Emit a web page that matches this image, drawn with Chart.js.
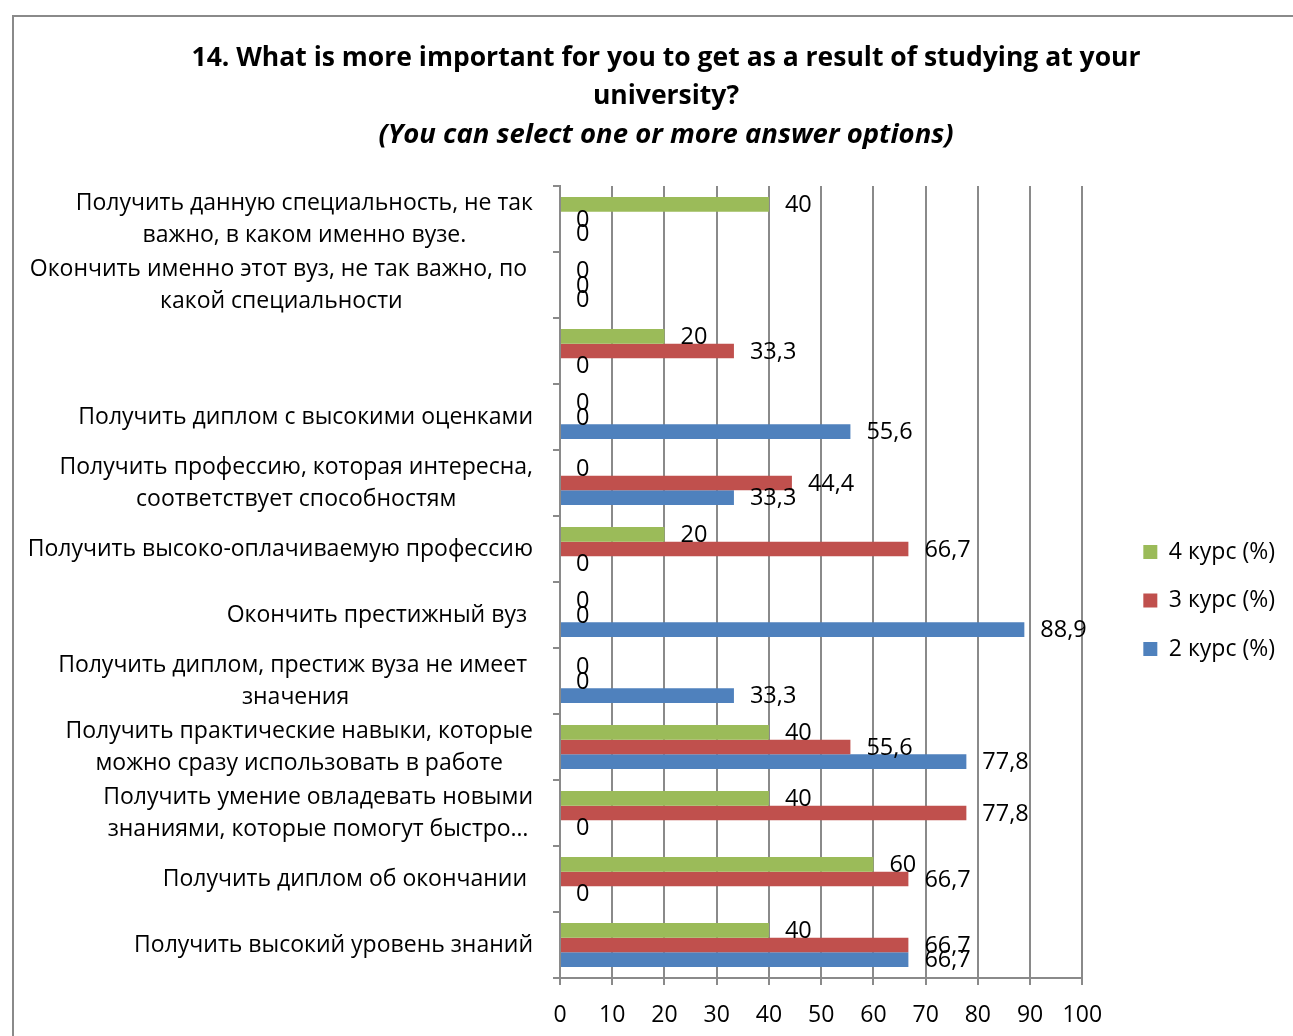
<!DOCTYPE html>
<html>
<head>
<meta charset="utf-8">
<script src="https://cdn.jsdelivr.net/npm/chart.js@4.4.1/dist/chart.umd.min.js"></script>
<style>
  html, body { margin: 0; padding: 0; background: #fff; overflow: hidden; }
  #frame { position: absolute; left: 12px; top: 15px; width: 2000px; height: 2000px;
           border-left: 2px solid #8a8a8a; border-top: 2px solid #8a8a8a; }
  #graph { position: absolute; left: 0; top: 0; }
</style>
</head>
<body>
<div id="frame"></div>
<canvas id="graph" width="1293" height="1036"></canvas>
<script>
const categories = [
  ['Получить данную специальность, не так', 'важно, в каком именно вузе.'],
  ['Окончить именно этот вуз, не так важно, по ', 'какой специальности'],
  '',
  'Получить диплом с высокими оценками',
  ['Получить профессию, которая интересна,', 'соответствует способностям'],
  'Получить высоко-оплачиваемую профессию',
  'Окончить престижный вуз ',
  ['Получить диплом, престиж вуза не имеет ', 'значения'],
  ['Получить практические навыки, которые', 'можно сразу использовать в работе'],
  ['Получить умение овладевать новыми', 'знаниями, которые помогут быстро…'],
  'Получить диплом об окончании ',
  'Получить высокий уровень знаний'
];
const kurs4 = [40, 0, 20, 0, 0, 20, 0, 0, 40, 40, 60, 40];
const kurs3 = [0, 0, 33.3, 0, 44.4, 66.7, 0, 0, 55.6, 77.8, 66.7, 66.7];
const kurs2 = [0, 0, 0, 55.6, 33.3, 0, 88.9, 33.3, 77.8, 0, 0, 66.7];
const seriesNames = ['4 курс (%)', '3 курс (%)', '2 курс (%)'];
const xTicks = [0, 10, 20, 30, 40, 50, 60, 70, 80, 90, 100];

const FONT = "'Open Sans', sans-serif";
const GRID = '#8a8a8a';
Chart.defaults.font.family = FONT;
Chart.defaults.color = '#000';

// category labels: block right-aligned to the axis, lines centred inside the block
const categoryLabels = {
  id: 'categoryLabels',
  afterDraw(chart) {
    const scale = chart.scales.y;
    const ctx = chart.ctx;
    ctx.save();
    ctx.font = '23px ' + FONT;
    ctx.fillStyle = '#000';
    ctx.textAlign = 'center';
    ctx.textBaseline = 'middle';
    const right = chart.chartArea.left - 27;
    categories.forEach((lab, i) => {
      const lines = Array.isArray(lab) ? lab : [lab];
      const w = Math.max(...lines.map(l => ctx.measureText(l).width));
      const cy = scale.getPixelForValue(i);
      lines.forEach((l, j) => {
        ctx.fillText(l, right - w / 2, cy + (j - (lines.length - 1) / 2) * 32);
      });
    });
    ctx.restore();
  }
};

// value labels at the end of every bar
const valueLabels = {
  id: 'valueLabels',
  afterDatasetsDraw(chart) {
    const ctx = chart.ctx;
    ctx.save();
    ctx.font = '23.5px ' + FONT;
    ctx.fillStyle = '#000';
    ctx.textAlign = 'left';
    ctx.textBaseline = 'middle';
    chart.data.datasets.forEach((ds, di) => {
      chart.getDatasetMeta(di).data.forEach((bar, i) => {
        ctx.fillText(String(ds.data[i]).replace('.', ','), bar.x + 16, bar.y + 1);
      });
    });
    ctx.restore();
  }
};

const data = {
  labels: categories,
  datasets: [
    { label: seriesNames[0], data: kurs4, backgroundColor: '#9BBB59', xAxisID: 'x', yAxisID: 'y' },
    { label: seriesNames[1], data: kurs3, backgroundColor: '#C0504D', xAxisID: 'x', yAxisID: 'y' },
    { label: seriesNames[2], data: kurs2, backgroundColor: '#4F81BD', xAxisID: 'x', yAxisID: 'y' }
  ]
};

const config = {
  type: 'bar',
  data: data,
  plugins: [categoryLabels, valueLabels],
  options: {
    indexAxis: 'y',
    responsive: false,
    animation: false,
    devicePixelRatio: 1,
    categoryPercentage: 0.667,
    barPercentage: 1,
    layout: { padding: { left: 47, right: 8, top: 0, bottom: 0 } },
    scales: {
      x: {
        min: 0,
        max: 100,
        afterBuildTicks(s) { s.ticks = xTicks.map(v => ({ value: v })); },
        afterFit(s) { s.height = 58; },
        grid: { color: GRID, lineWidth: 2, tickLength: 7 },
        border: { color: GRID, width: 2 },
        ticks: { font: { size: 23 }, padding: 17, color: '#000' }
      },
      y: {
        afterFit(s) { s.width = 513; },
        grid: { color: GRID, lineWidth: 2, tickLength: 7, drawOnChartArea: false, offset: true },
        border: { color: GRID, width: 2 },
        ticks: { display: false }
      },
      yRight: {
        type: 'category',
        position: 'right',
        afterFit(s) { s.width = 35.5; },
        grid: { display: false },
        border: { display: false },
        ticks: { display: false }
      }
    },
    plugins: {
      title: {
        display: true,
        text: ['14. What is more important for you to get as a result of studying at your', 'university?'],
        font: { size: 26.5, weight: 'bold', lineHeight: '38px' },
        color: '#000',
        padding: { top: 39, bottom: 0 }
      },
      subtitle: {
        display: true,
        text: '(You can select one or more answer options)',
        font: { size: 27.5, weight: 'bold', style: 'italic', lineHeight: '38px' },
        color: '#000',
        padding: { top: 1, bottom: 32 }
      },
      legend: {
        position: 'right',
        fullSize: false,
        title: { display: true, text: '', font: { size: 10 }, padding: { top: 12.5, bottom: 12.5 } },
        labels: { boxWidth: 14, boxHeight: 14, padding: 25.5, font: { size: 23 }, color: '#000' }
      },
      tooltip: { enabled: false }
    }
  }
};

// render chart
const myChart = new Chart(document.getElementById('graph'), config);
</script>
</body>
</html>
